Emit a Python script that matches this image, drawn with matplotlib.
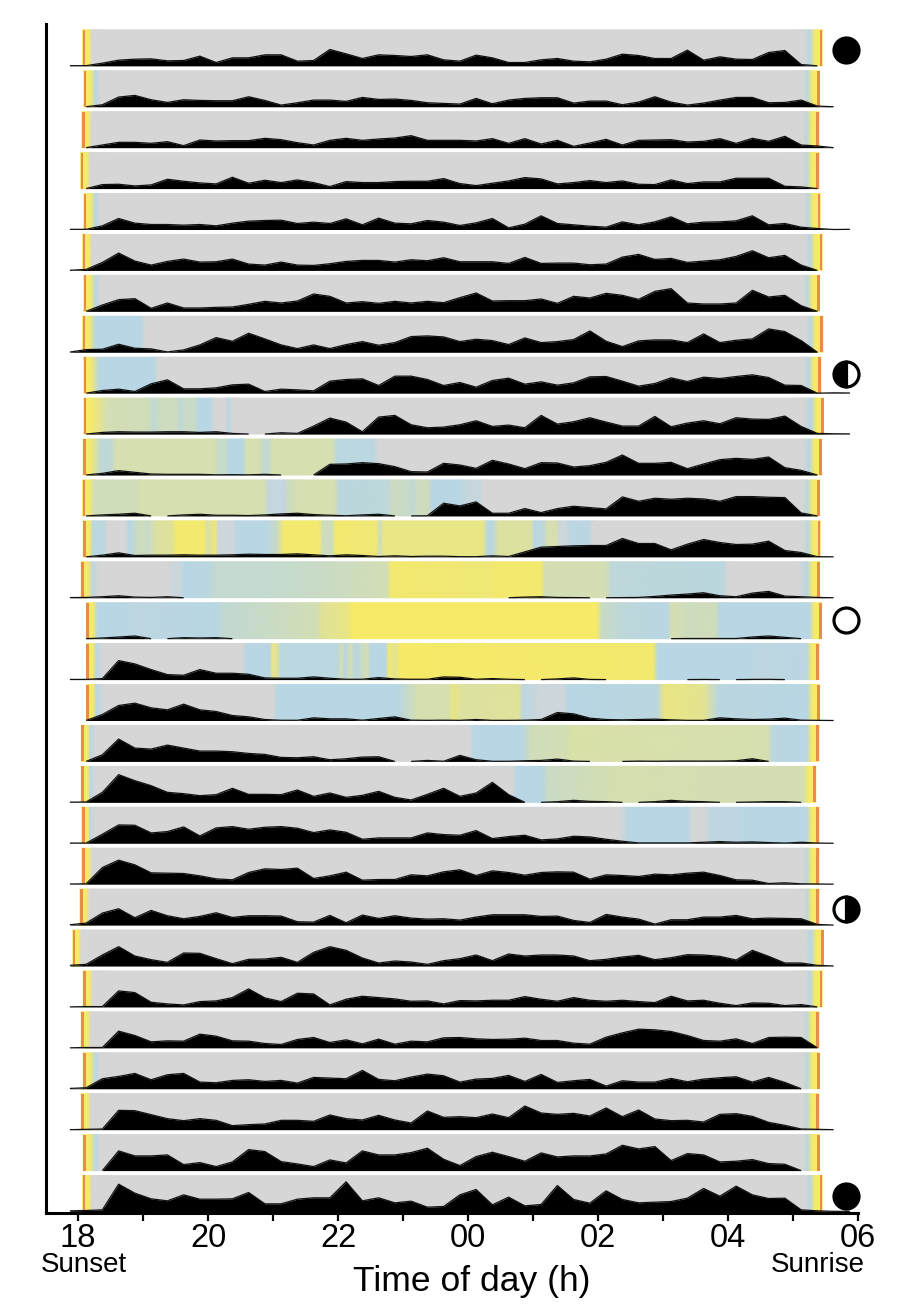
import numpy as np
import matplotlib
matplotlib.use('Agg')
import matplotlib.pyplot as plt
from matplotlib.colors import LinearSegmentedColormap

matplotlib.rcParams['font.family'] = ['Liberation Sans', 'DejaVu Sans']

# activity per 15 min bin, one row per night (0 = nothing recorded)
activity = [
    [.5,.5,8,17,20,21,15,16,29,10, 24,24,33,33,14,16,49,36,22,33, 31,28,33,18,14,32,24,10,10,18, 22,14,12,20,35,31,22,22,47,17, 27,20,19,40,46,4,0,0,0],
    [0,0,6,29,34,21,13,21,19,18, 18,30,19,5,12,20,20,16,28,22, 23,19,12,10,8,25,9,20,25,27, 27,11,17,17,6,14,30,14,5,11, 20,28,28,12,13,20,2,0,0],
    [0,0,8,16,16,13,18,6,23,20, 21,21,28,24,15,8,22,28,22,26, 29,36,22,22,22,20,27,13,27,11, 22,4,14,25,8,22,23,24,17,19, 27,13,28,19,34,8,5,0,0],
    [0,0,12,13,8,11,28,22,17,14, 34,16,25,18,26,18,6,21,18,18, 21,22,22,30,15,9,16,23,33,29, 14,18,24,18,23,13,12,26,15,20, 20,31,31,31,7,5,0,0,0],
    [.5,.5,11,33,19,15,15,13,15,11, 19,25,27,28,18,22,18,32,14,34, 19,17,27,22,12,20,33,5,16,41, 18,14,10,7,23,14,23,38,17,22, 23,26,41,14,18,7,3,0,.5],
    [.5,3,24,52,28,16,27,34,25,26, 34,19,16,25,16,15,20,27,30,30, 25,32,29,38,26,26,26,21,39,21, 22,22,17,19,40,48,33,36,24,28, 32,42,59,38,45,16,0,0,0],
    [0,0,19,35,38,9,25,10,10,12, 13,21,30,25,31,52,45,25,29,24, 30,25,30,26,41,55,31,32,32,37, 24,45,40,54,48,36,60,68,25,22, 22,25,63,43,48,17,0,0,0],
    [.5,8,9,24,12,10,1,7,22,44, 33,57,40,22,11,22,11,23,32,21, 29,47,49,46,32,39,35,23,43,29, 32,38,64,33,17,34,37,37,29,55, 29,36,40,70,62,35,0,0,0],
    [0,0,8,12,5,28,40,13,13,16, 25,27,5,12,10,7,36,41,43,23, 51,51,41,23,32,18,38,45,27,34, 24,31,49,50,36,21,29,46,35,48, 44,50,55,47,24,23,0,1,.5],
    [0,0,5,7,6,6,7,7,5,7, 2,0,0,4,2,24,48,36,7,51, 56,28,19,21,28,40,23,27,19,56, 30,37,49,36,24,24,53,22,33,40, 31,49,45,44,54,23,2,1,.5],
    [0,0,5,13,8,3,2,2,2,.5, 1,.5,2,0,0,0,32,33,37,34, 25,10,9,35,30,20,44,33,19,37, 36,24,28,38,60,35,35,38,19,33, 46,50,47,54,22,14,0,0,0],
    [0,0,3,5,8,0,0,3,5,2, 2,1,3,6,8,4,2,.5,3,5, 0,0,.5,38,30,42,8,8,22,10, 22,29,25,21,57,44,53,50,53,51, 44,58,58,56,55,9,0,0,0],
    [0,0,5,12,4,5,5,6,5,5, 6,8,7,7,9,6,3,6,4,1, 3,1,2,2,.5,.5,3,1,15,29, 31,33,34,34,55,40,40,21,38,52, 43,37,38,47,19,13,.5,0,0],
    [.5,1,3,6,2,1,3,0,0,0, 0,0,0,0,0,0,0,0,0,0, 0,0,0,0,0,0,0,0,2,3, 1,.5,0,0,.5,1,4,8,11,15, 6,3,14,19,5,3,1,0,0],
    [0,0,2,5,8,0,0,3,2,3, 0,0,0,0,0,0,0,0,0,0, 0,0,0,0,0,0,0,0,0,0, 0,0,0,0,0,0,0,0,.5,.5, .5,.5,5,8,4,0,0,0,0],
    [.5,.5,3,57,47,30,15,13,30,19, 19,16,5,4,4,8,4,1,1,6, 2,1,1,8,7,1,3,1,0,0, 2,5,.5,0,0,0,0,0,0,.5, 0,0,.6,.8,0,0,0,0,0],
    [0,0,18,45,52,38,32,49,32,27, 15,11,3,.7,.7,8,5,5,1,6, 11,1,.5,1,.5,3,.5,.5,1,3, 24,20,7,3,2,3,4,2,.5,.5, 8,5,3,4,7,1,.5,0,0],
    [0,0,20,67,40,37,49,40,31,31, 29,24,21,12,11,14,5,8,13,14, 0,0,3,.5,18,5,.5,.5,2,3, 7,1,0,0,0,1,.5,1,1,1, 1,2,8,0,0,0,0,0,0],
    [.5,1,30,83,65,50,30,26,20,23, 42,24,24,23,37,18,28,15,21,33, 15,7,24,42,18,28,60,23,0,0, 2,6,3,2,0,0,2,6,3,2, 0,0,1,2,2,0,0,0,0],
    [.5,.5,27,55,54,31,35,49,22,46, 50,42,48,50,45,32,40,33,12,16, 16,16,31,26,24,38,14,20,24,10, 13,21,19,12,6,1,1,1,1,3, 5,3,4,2,.5,3,.5,0,0],
    [.5,1,50,72,58,34,33,32,25,16, 13,35,46,44,48,17,25,36,12,14, 14,28,25,37,43,26,40,35,27,35, 37,36,15,28,26,23,30,28,33,36, 26,13,12,2,4,1,.5,0,0],
    [1,6,36,49,22,44,28,19,26,37, 23,28,28,27,10,9,29,7,30,20, 28,21,18,19,15,24,31,31,31,26, 27,14,8,32,24,18,3,16,16,24, 24,29,19,21,20,19,2,0,0],
    [2,5,33,58,30,19,11,39,38,22, 7,20,21,26,11,41,58,47,24,9, 15,12,5,16,22,33,16,36,30,33, 33,30,16,20,27,32,19,25,34,33, 29,18,47,29,9,9,2,0,0],
    [0,1,1,48,43,14,9,6,16,18, 28,54,27,16,41,39,6,23,32,28, 24,17,18,9,19,18,20,20,31,23, 17,28,20,17,20,16,13,32,18,20, 11,4,12,11,4,7,0,0,0],
    [0,1,1,50,37,18,21,20,41,35, 21,20,13,10,25,31,16,24,12,26, 11,20,18,30,31,27,25,26,29,22, 22,14,11,32,45,56,54,49,37,22, 20,27,13,31,32,31,0,0,0],
    [1,3,30,37,46,27,42,46,20,18, 25,27,22,25,17,34,32,30,55,28, 24,35,44,39,20,29,31,40,22,43, 19,24,28,8,24,20,20,31,21,29, 33,36,20,34,19,0,0,0,0],
    [0,1,2,58,57,45,33,27,33,28, 12,15,17,28,28,25,44,33,29,43, 29,20,56,37,39,36,47,36,71,50, 46,49,41,65,39,59,32,27,28,23, 46,48,40,22,13,2,1,0,0],
    [0,0,0,59,44,44,47,18,24,12, 26,63,57,27,20,12,32,23,59,47, 47,54,67,34,15,42,55,42,28,53, 41,44,44,50,76,65,72,30,51,47, 26,28,33,21,19,0,0,0,0],
    [2,3,5,82,55,38,32,50,37,37, 38,57,23,23,37,41,41,89,32,41, 26,31,13,15,50,66,20,43,17,21, 78,36,25,62,36,26,28,30,40,69, 46,76,50,39,40,5,2,.5,.5],
]

# hours after 18:00
sunset = [.07,.09,.06,.04,.09,.07,.09,.07,.09,.09,.08,.07,.08,.05,.13,.13,.13,.05,.05,.06,.06,.03,-.08,.08,.05,.08,.05,.08,.07]
sunrise = [11.45,11.41,11.40,11.40,11.42,11.45,11.41,11.46,11.43,11.47,11.44,11.41,11.42,11.41,11.44,11.40,11.41,11.40,11.35,11.40,11.40,11.40,11.47,11.45,11.40,11.41,11.40,11.41,11.45]

# sky light between twilights: stop times and level
# level 0 dark, 1 blue, 2 sage, 3 moonlit yellow
sky_t = [
    [.22,11.18],
    [.27,.34,11.16],
    [.21,11.16],
    [.19,11.16],
    [.27,.34,11.18],
    [.22,11.2],
    [.27,.34,11.16],
    [.27,.96,1.04,11.2],
    [.33,1.16,1.23,11.16],
    [.46,1.08,1.16,1.27,1.51,1.57,1.66,1.80,1.85,2.03,2.09,2.27,2.30,2.34,2.37,11.16],
    [.36,.50,.59,2.09,2.16,2.27,2.32,2.53,2.59,2.78,2.84,2.94,2.99,3.91,3.99,4.53,4.64,11.16],
    [.25,.89,.96,2.86,2.94,3.17,3.25,3.40,3.95,4.02,4.76,4.84,5.07,5.15,5.23,5.38,5.46,5.85,6.0,6.2,6.23,11.16],
    [.23,.40,.45,.73,.78,.96,1.08,1.20,1.44,1.51,1.94,1.99,2.11,2.16,2.40,2.45,2.90,3.06,3.17,3.71,3.77,3.91,3.96,4.59,4.64,4.70,6.23,6.30,6.39,6.47,6.97,7.02,7.16,7.23,7.36,7.41,7.51,7.57,7.86,7.91,11.16],
    [.23,.31,1.39,1.44,1.58,1.64,2.01,2.13,2.90,3.83,4.75,4.82,6.35,6.43,7.13,7.18,8.13,8.21,9.92,10.0,11.1],
    [.30,.73,.81,2.13,2.20,3.68,3.75,4.14,4.22,7.98,8.06,8.37,9.06,9.14,9.41,9.80,9.88,11.12],
    [.28,.38,2.53,2.59,2.94,2.99,3.06,3.12,3.99,4.05,4.11,4.19,4.27,4.44,4.51,4.73,4.78,4.88,4.96,8.85,8.92,10.34,10.42,11.16],
    [.28,.42,3.0,3.07,4.92,5.23,5.69,5.77,5.92,6.78,6.85,7.13,7.48,7.55,8.91,9.02,9.41,9.64,9.84,11.16],
    [.19,.27,6.02,6.09,6.82,6.97,7.51,7.59,10.61,10.69,11.14],
    [.19,.28,6.68,6.75,7.15,7.23,8.33,9.88,11.12],
    [.18,.27,8.34,8.47,9.37,9.45,9.66,9.72,10.15,10.26,11.12],
    [.22,11.16],
    [.18,11.18],
    [.05,11.2],
    [.23,11.2],
    [.2,11.16],
    [.27,.34,11.16],
    [.2,11.16],
    [.27,.34,11.16],
    [.22,11.2],
]
sky_lv = [
    [0,0],
    [1,0,0],
    [0,0],
    [0,0],
    [1,0,0],
    [0,0],
    [1,0,0],
    [1,1,0,0],
    [1,1,0,0],
    [1.9,1.8,1.3,1.7,1.7,1.2,1.6,1.5,1,1,0,0,.8,.8,0,0],
    [1.2,1.3,2,2,1.5,1.5,1,1,2,2,1.4,1.4,2,2,1.1,1.1,0,0],
    [1.8,1.8,2,2,.6,.6,1.7,2,2,1.1,1.2,1.7,1.5,1.3,1.7,1.7,1,1,.5,.5,0,0],
    [1.1,1.1,0,0,1,1.8,1.5,2.2,2.3,2.9,2.9,2,2.8,.3,.3,1,1,1.6,2.9,2.9,1.7,1.7,2.9,2.8,1.6,2.6,2.6,1,1.2,2.2,2.2,1,1.2,2,2,.3,.3,.9,.9,0,0],
    [.8,0,0,.4,.4,1,1.1,1.4,1.4,1.6,1.9,2.9,2.8,2.9,2.9,1.9,1.9,1.2,1.1,0,0],
    [1,1,.8,1,1.3,1.9,2.3,2.6,3,3,1.6,1.2,1,2,1.7,1.8,1,1],
    [.9,0,0,1,1,2.4,2.4,1.1,1.1,2,1,2,1,2,1,1,2.8,2.4,3,2.9,1,1,.8,.9],
    [.8,0,0,1,1,2,2,2.6,2.2,2.3,.8,.3,.3,1,1.1,2.6,2.5,2.4,1.1,1],
    [.9,0,0,1,1,1.8,1.9,2.1,2,1.1,1],
    [.9,0,0,1,1,1.6,2,1.9,1.9],
    [.8,0,0,1,1,.1,.1,.8,.8,1,1],
    [0,0],
    [0,0],
    [0,0],
    [0,0],
    [0,0],
    [1,0,0],
    [0,0],
    [1,0,0],
    [0,0],
]

# moon phase symbols: row, height above the row baseline, fill
moon_rows = [0, 8, 14, 21, 28]
moon_y = [48, 59, 56, 48, 48]
moon_fill = ['full', 'left', 'none', 'right', 'full']

tick_hours = [0, 2, 4, 6, 8, 10, 12]
tick_names = ['18', '20', '22', '00', '02', '04', '06']
odd_hours = [1, 3, 5, 7, 9, 11]

bin_hours = -0.125 + 0.25*np.arange(49)
row_step = 122.75
strip_h = 108

sky_cmap = LinearSegmentedColormap.from_list(
    'sky', ['#d6d6d6', '#b8d6e4', '#d6dfb0', '#f6ea68'])

fig = plt.figure(figsize=(9.2, 13.14), dpi=100)
ax = fig.add_axes([46/920, 1-1213/1314, 812/920, 1189/1314])

for i, vals in enumerate(activity):
    base = 4.5 + (28-i)*row_step
    # sky strip with both twilights, dawn goes through blue unless the moon is still up
    dawn_lv = max(1, sky_lv[i][-1])
    t = [sunset[i], sunset[i]+.1] + sky_t[i] + [sunrise[i]-.19, sunrise[i]-.11, sunrise[i]]
    lv = [3, 3] + sky_lv[i] + [dawn_lv, 3, 3]
    ax.pcolormesh(np.array([t, t]),
        np.array([[base]*len(t), [base+strip_h]*len(t)]),
        np.array([lv, lv]),
        shading='gouraud', cmap=sky_cmap, vmin=0, vmax=3, zorder=1)
    ax.fill_between([sunset[i], sunset[i]+.04], base, base+strip_h,
        color='#e98c4a', lw=0, zorder=1.5)
    ax.fill_between([sunrise[i]-.04, sunrise[i]], base, base+strip_h,
        color='#e98c4a', lw=0, zorder=1.5)

    # activity, a run stops where two neighbouring bins are both empty
    vals = np.array(vals, dtype=float)
    start = None
    for k in range(len(vals)):
        on = k < len(vals)-1 and (vals[k] > 0 or vals[k+1] > 0)
        if on and start is None:
            start = k
        if not on and start is not None:
            ax.fill_between(bin_hours[start:k+1], base, base+vals[start:k+1],
                color='black', lw=0, zorder=2)
            ax.plot(bin_hours[start:k+1], base+vals[start:k+1],
                color='#111111', lw=0.9, zorder=2.1, solid_capstyle='butt')
            start = None

for row, dy, fill in zip(moon_rows, moon_y, moon_fill):
    ax.plot([11.815], [4.5 + (28-row)*row_step + dy], marker='o', ms=18, mew=2.3,
        mec='black', mfc='black' if fill != 'none' else 'white',
        fillstyle=fill if fill != 'none' else 'full', markerfacecoloralt='white',
        clip_on=False, zorder=5)

ax.set_xlim(-32/65, 12)
ax.set_ylim(0, 3567)
ax.spines['top'].set_visible(False)
ax.spines['right'].set_visible(False)
ax.spines['left'].set_linewidth(2.2)
ax.spines['bottom'].set_linewidth(2.2)
ax.set_yticks([])
ax.set_xticks(tick_hours)
ax.set_xticklabels(tick_names, fontsize=23.5)
ax.set_xticks(odd_hours, minor=True)
ax.tick_params(axis='x', which='major', length=6, width=1.6, pad=1)
ax.tick_params(axis='x', which='minor', length=6, width=1.6)

fig.text(84/920, 1-1265/1314, 'Sunset', fontsize=20, ha='center', va='center')
fig.text(818/920, 1-1265/1314, 'Sunrise', fontsize=20, ha='center', va='center')
fig.text(472/920, 1-1281/1314, 'Time of day (h)', fontsize=25.5, ha='center', va='center')

fig.savefig('out.png', dpi=100)
